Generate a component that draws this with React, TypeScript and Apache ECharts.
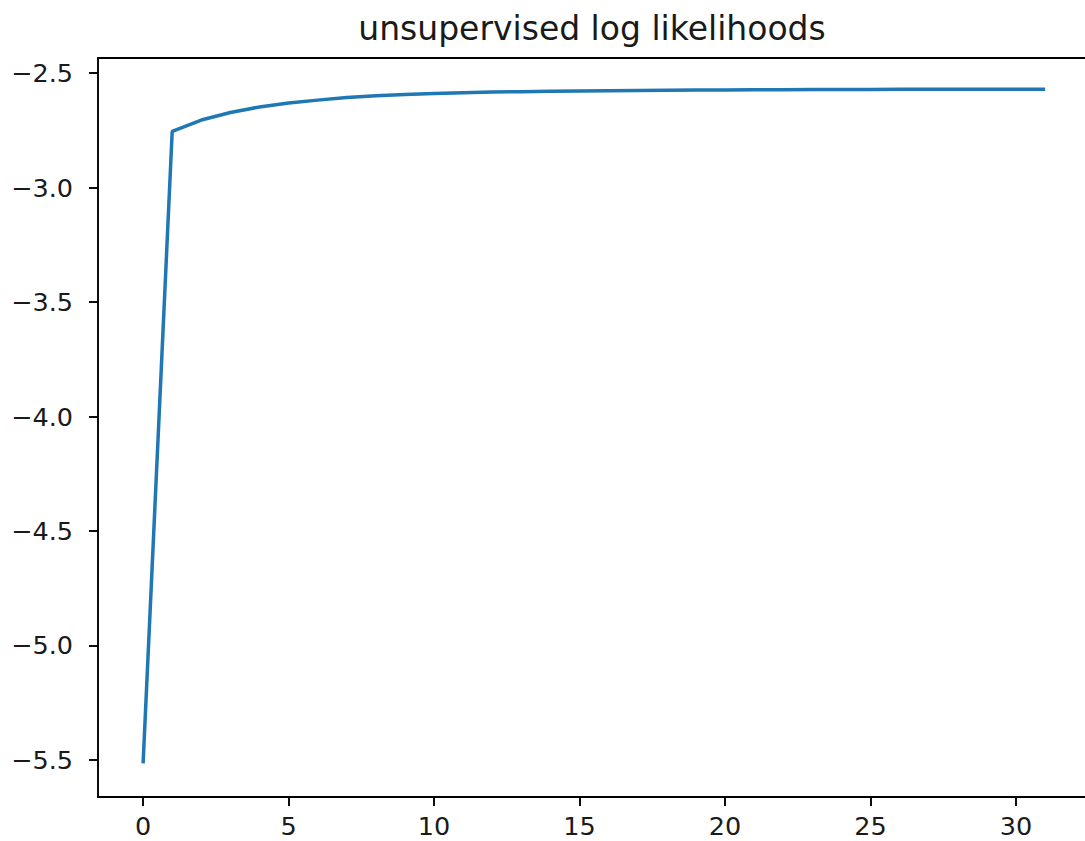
import React, { useEffect, useRef } from "react";
import * as echarts from "echarts";

const TITLE = "unsupervised log likelihoods";
const iterations = [
  0, 1, 2, 3, 4, 5, 6, 7, 8, 9, 10, 11, 12, 13, 14, 15, 16, 17, 18, 19, 20,
  21, 22, 23, 24, 25, 26, 27, 28, 29, 30, 31,
];
const logLikelihoods = [
  -5.515, -2.755, -2.705, -2.672, -2.648, -2.631, -2.618, -2.607, -2.599,
  -2.593, -2.589, -2.586, -2.583, -2.581, -2.579, -2.578, -2.577, -2.576,
  -2.575, -2.574, -2.574, -2.573, -2.573, -2.572, -2.572, -2.572, -2.571,
  -2.571, -2.571, -2.57, -2.57, -2.57,
];
const xTicks = [0, 5, 10, 15, 20, 25, 30];
const yTicks = [-5.5, -5.0, -4.5, -4.0, -3.5, -3.0, -2.5];

const FONT = "DejaVu Sans";
const TEXT = "#1a1a1a";
const fmtY = (v: number) => v.toFixed(1).replace("-", "\u2212");

export default function App() {
  const ref = useRef<HTMLDivElement>(null);
  useEffect(() => {
    document.body.style.margin = "0";
    const chart = echarts.init(ref.current!, null, { renderer: "svg" });
    const axisLine = {
      show: true,
      onZero: false,
      lineStyle: { color: "#000", width: 1.9 },
    };
    chart.setOption({
      animation: false,
      backgroundColor: "#fff",
      grid: { left: 98, right: 0, top: 58, bottom: 44, containLabel: false },
      graphic: [
        {
          type: "text",
          x: 592,
          y: 45,
          style: {
            text: TITLE,
            fontFamily: FONT,
            fontSize: 33,
            fill: TEXT,
            textAlign: "center",
            textVerticalAlign: "bottom",
          },
        },
      ],
      xAxis: [
        {
          type: "value",
          min: -1.55,
          max: 32.37,
          position: "bottom",
          axisLine,
          splitLine: { show: false },
          axisTick: {
            show: true,
            customValues: xTicks,
            length: 9,
            lineStyle: { color: "#000", width: 1.9 },
          },
          axisLabel: {
            customValues: xTicks,
            fontFamily: FONT,
            fontSize: 25.5,
            color: TEXT,
            margin: 16,
          },
        },
        {
          type: "value",
          min: -1.55,
          max: 32.37,
          position: "top",
          axisLine,
          splitLine: { show: false },
          axisTick: { show: false },
          axisLabel: { show: false },
        },
      ],
      yAxis: {
        type: "value",
        min: -5.662,
        max: -2.434,
        axisLine,
        splitLine: { show: false },
        axisTick: {
          show: true,
          customValues: yTicks,
          length: 9,
          lineStyle: { color: "#000", width: 1.9 },
        },
        axisLabel: {
          customValues: yTicks,
          formatter: (v: number) => fmtY(v),
          fontFamily: FONT,
          fontSize: 25.5,
          color: TEXT,
          margin: 25,
        },
      },
      series: [
        {
          type: "line",
          xAxisIndex: 0,
          data: iterations.map((x, i) => [x, logLikelihoods[i]]),
          symbol: "none",
          lineStyle: { color: "#1f77b4", width: 3.5 },
          clip: true,
        },
      ],
    });
    return () => chart.dispose();
  }, []);
  return <div ref={ref} style={{ width: 1085, height: 841 }} />;
}
